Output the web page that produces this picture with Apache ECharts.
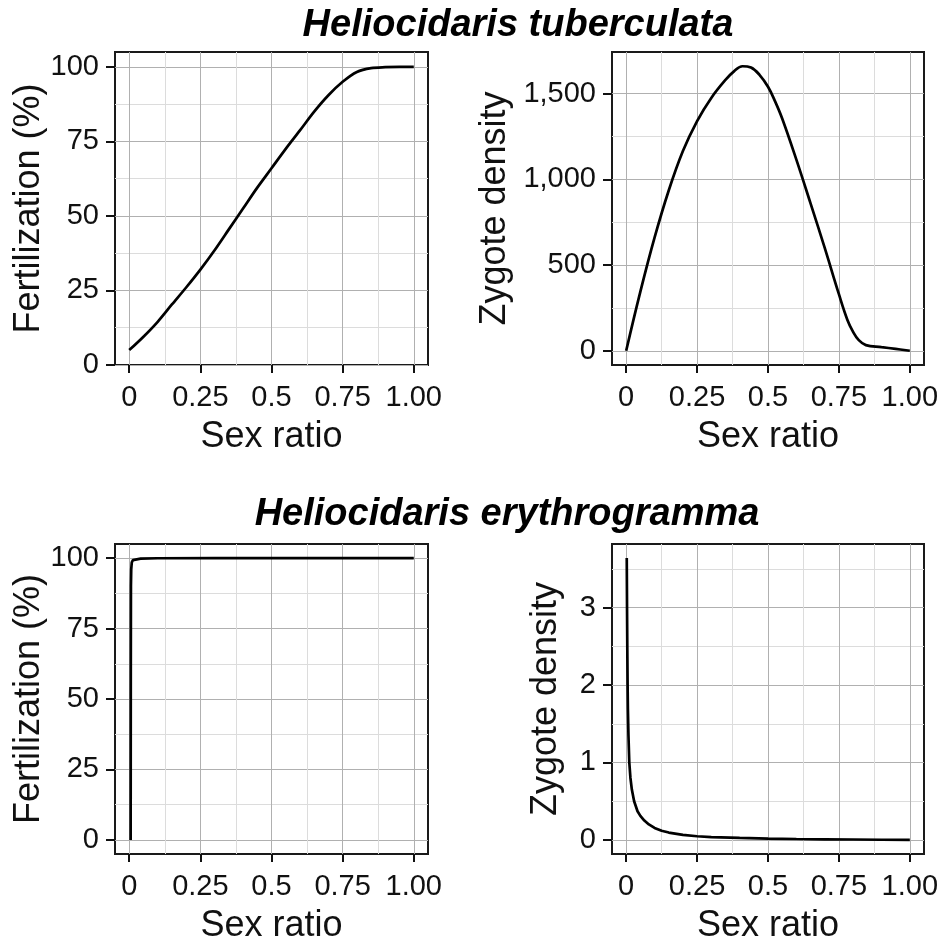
<!DOCTYPE html>
<html><head><meta charset="utf-8">
<script src="https://cdn.jsdelivr.net/npm/echarts@6/dist/echarts.min.js"></script>
<style>html,body{margin:0;padding:0;background:#fff}#c{width:943px;height:945px}</style>
</head><body><div id="c"></div>
<script>
// ---- data ----
const titles = ['Heliocidaris tuberculata', 'Heliocidaris erythrogramma'];
const xName = 'Sex ratio';
const yNames = ['Fertilization (%)', 'Zygote density', 'Fertilization (%)', 'Zygote density'];

const xTicks = [0, 0.25, 0.5, 0.75, 1];
const xTickLabels = ['0', '0.25', '0.5', '0.75', '1.00'];
const xMinor = [0.125, 0.375, 0.625, 0.875];

const fertTicks = [0, 25, 50, 75, 100];
const fertTickLabels = ['0', '25', '50', '75', '100'];
const fertMinor = [12.5, 37.5, 62.5, 87.5];

const tubZygTicks = [0, 500, 1000, 1500];
const tubZygTickLabels = ['0', '500', '1,000', '1,500'];
const tubZygMinor = [250, 750, 1250];

const eryZygTicks = [0, 1, 2, 3];
const eryZygTickLabels = ['0', '1', '2', '3'];
const eryZygMinor = [0.5, 1.5, 2.5, 3.5];

// H. tuberculata fertilization
const tubFertX = [0, 0.05, 0.1, 0.15, 0.2, 0.25, 0.3, 0.35, 0.4, 0.45, 0.5, 0.55, 0.6, 0.65, 0.7, 0.75, 0.8, 0.85, 0.9, 0.95, 1];
const tubFertY = [5, 9.5, 14.5, 20.3, 26, 32, 38.5, 45.5, 52.5, 59.5, 66, 72.5, 78.7, 85, 90.5, 95, 98.3, 99.6, 99.9, 100, 100];

// H. tuberculata zygote density
const tubZygX = [0, 0.05, 0.1, 0.15, 0.2, 0.25, 0.3, 0.35, 0.38, 0.41, 0.44, 0.47, 0.5, 0.525, 0.55, 0.6, 0.65, 0.7, 0.75, 0.78, 0.8, 0.82, 0.845, 0.9, 0.95, 1];
const tubZygY = [0, 345, 660, 935, 1165, 1340, 1475, 1580, 1630, 1660, 1652, 1610, 1540, 1455, 1355, 1115, 860, 600, 330, 180, 110, 62, 33, 21, 11, 0];

// H. erythrogramma fertilization
const eryFertX = [0.005, 0.0055, 0.006, 0.007, 0.009, 0.013, 0.02, 0.04, 0.1, 0.3, 1];
const eryFertY = [0, 60, 90, 96, 98.5, 99.3, 99.6, 99.8, 99.95, 100, 100];

// H. erythrogramma zygote density
const eryZygX = [0.002, 0.003, 0.004, 0.005, 0.006, 0.008, 0.011, 0.015, 0.02, 0.028, 0.04, 0.05, 0.064, 0.08, 0.1, 0.125, 0.15, 0.2, 0.25, 0.3, 0.4, 0.5, 0.6, 0.7, 0.8, 0.9, 1];
const eryZygY = [3.64, 3.0, 2.45, 2.0, 1.7, 1.35, 1.0, 0.8, 0.65, 0.5, 0.37, 0.31, 0.25, 0.2, 0.155, 0.118, 0.095, 0.065, 0.047, 0.035, 0.025, 0.017, 0.012, 0.008, 0.005, 0.002, 0];

// ---- layout ----
const FONT = '"Liberation Sans", Arial, Helvetica, sans-serif';
const grids = [
  {left: 115, top: 52, width: 313, height: 313},
  {left: 612, top: 52, width: 312, height: 313},
  {left: 115, top: 544, width: 313, height: 314},
  {left: 612, top: 544, width: 312, height: 314}
];
const yCfg = [
  {min: 0, max: 105, ticks: fertTicks, labels: fertTickLabels, minor: fertMinor, gap: 67},
  {min: -83, max: 1743, ticks: tubZygTicks, labels: tubZygTickLabels, minor: tubZygMinor, gap: 99},
  {min: -5, max: 105, ticks: fertTicks, labels: fertTickLabels, minor: fertMinor, gap: 67},
  {min: -0.182, max: 3.822, ticks: eryZygTicks, labels: eryZygTickLabels, minor: eryZygMinor, gap: 48}
];
const seriesData = [
  [tubFertX, tubFertY, 0.3],
  [tubZygX, tubZygY, 0.4],
  [eryFertX, eryFertY, 0],
  [eryZygX, eryZygY, 0]
];

const MAJOR = '#b0b0b0', MINOR = '#dcdcdc', INK = '#111';
const xAxes = [], yAxes = [], series = [];
grids.forEach((g, i) => {
  xAxes.push({
    type: 'value', gridIndex: i, min: -0.05, max: 1.05, position: 'bottom',
    name: xName, nameLocation: 'middle', nameGap: 54,
    nameTextStyle: {fontSize: 36, color: INK, fontFamily: FONT},
    axisLine: {show: false, onZero: false},
    axisTick: {show: true, length: 8, customValues: xTicks, lineStyle: {color: INK, width: 2}},
    axisLabel: {customValues: xTicks, margin: 18, fontSize: 29, color: INK, fontFamily: FONT,
      formatter: v => xTickLabels[xTicks.indexOf(v)]},
    splitLine: {show: true, customValues: xTicks, lineStyle: {color: MAJOR, width: 1}}
  });
  xAxes.push({
    type: 'value', gridIndex: i, min: -0.05, max: 1.05, position: 'top',
    axisLine: {show: false, onZero: false}, axisLabel: {show: false},
    axisTick: {show: false, customValues: xMinor},
    splitLine: {show: true, customValues: xMinor, lineStyle: {color: MINOR, width: 1}}
  });
  const c = yCfg[i];
  yAxes.push({
    type: 'value', gridIndex: i, min: c.min, max: c.max, position: 'left',
    name: yNames[i], nameLocation: 'middle', nameGap: c.gap, nameRotate: 90,
    nameTextStyle: {fontSize: 36, color: INK, fontFamily: FONT},
    axisLine: {show: false, onZero: false},
    axisTick: {show: true, length: 9, customValues: c.ticks, lineStyle: {color: INK, width: 2}},
    axisLabel: {customValues: c.ticks, margin: 16, fontSize: 29, color: INK, fontFamily: FONT,
      formatter: v => c.labels[c.ticks.indexOf(v)]},
    splitLine: {show: true, customValues: c.ticks, lineStyle: {color: MAJOR, width: 1}}
  });
  yAxes.push({
    type: 'value', gridIndex: i, min: c.min, max: c.max, position: 'right',
    axisLine: {show: false, onZero: false}, axisLabel: {show: false},
    axisTick: {show: false, customValues: c.minor},
    splitLine: {show: true, customValues: c.minor, lineStyle: {color: MINOR, width: 1}}
  });
  const [xs, ys, sm] = seriesData[i];
  series.push({
    type: 'line', xAxisIndex: 2 * i, yAxisIndex: 2 * i,
    data: xs.map((x, k) => [x, ys[k]]),
    showSymbol: false, smooth: sm, animation: false,
    lineStyle: {color: '#000', width: 2.7}
  });
});

const chart = echarts.init(document.getElementById('c'), null, {renderer: 'canvas'});
chart.setOption({
  animation: false,
  backgroundColor: '#fff',
  title: [
    {text: titles[0], left: 518, top: 7, textAlign: 'center', padding: 0,
     textStyle: {fontSize: 38, fontWeight: 'bold', fontStyle: 'italic', color: '#000', fontFamily: FONT}},
    {text: titles[1], left: 507, top: 496, textAlign: 'center', padding: 0,
     textStyle: {fontSize: 38, fontWeight: 'bold', fontStyle: 'italic', color: '#000', fontFamily: FONT}}
  ],
  grid: grids.map(g => Object.assign({show: true, borderColor: '#1a1a1a', borderWidth: 2, backgroundColor: 'transparent', containLabel: false}, g)),
  xAxis: xAxes,
  yAxis: yAxes,
  series: series
});
</script>
</body></html>
